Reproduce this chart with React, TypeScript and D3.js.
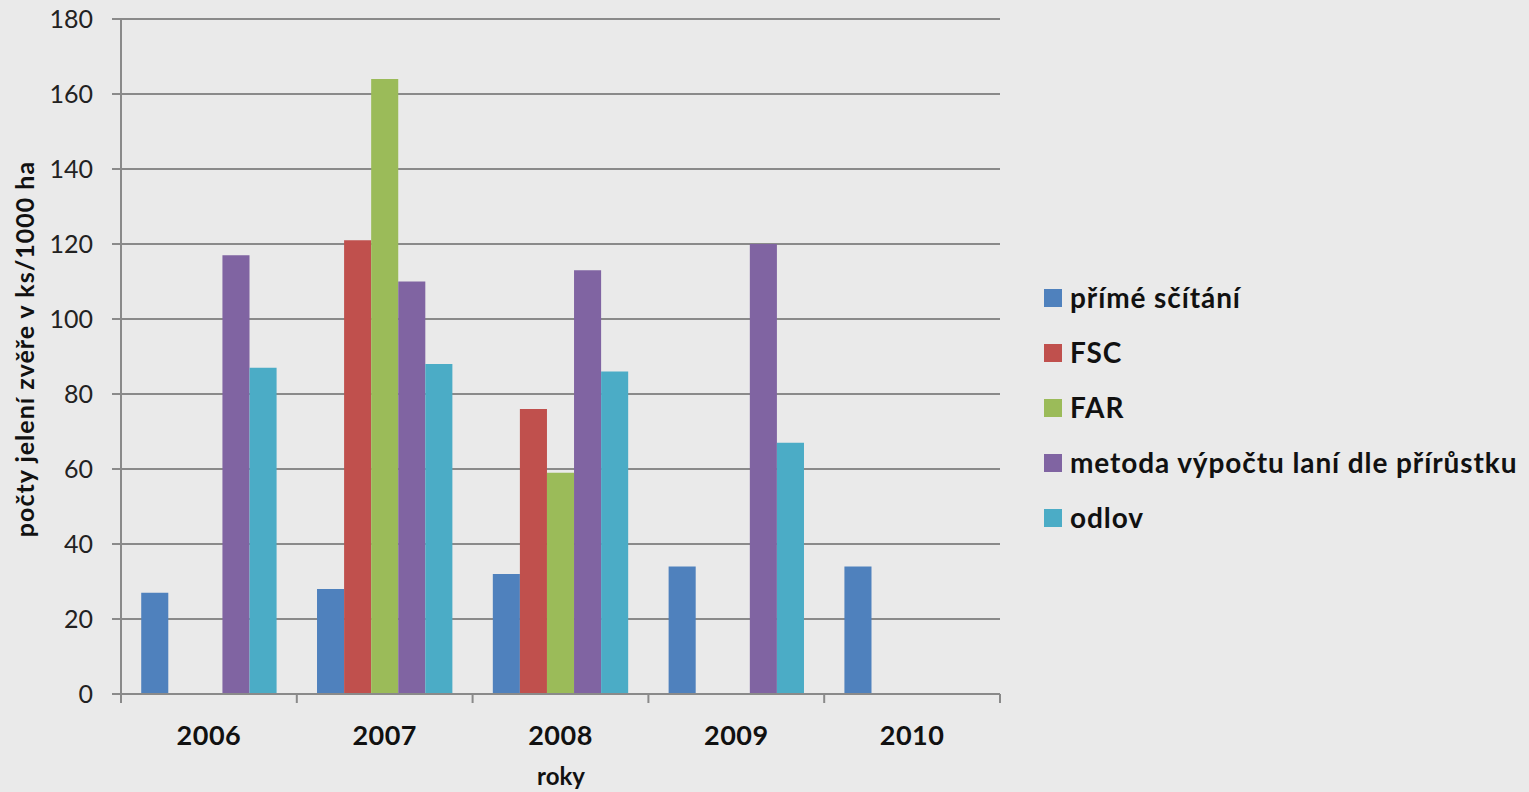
import React from "react";
import * as d3 from "d3";

const years = ["2006", "2007", "2008", "2009", "2010"];
const seriesNames = [
  "přímé sčítání",
  "FSC",
  "FAR",
  "metoda výpočtu laní dle přírůstku",
  "odlov",
];
const seriesColors = ["#4F81BD", "#C0504D", "#9BBB59", "#8064A2", "#4BACC6"];
// values per series, one entry per year (null = no bar)
const primeScitani = [27, 28, 32, 34, 34];
const fsc = [null, 121, 76, null, null];
const far = [null, 164, 59, null, null];
const metodaLani = [117, 110, 113, 120, null];
const odlov = [87, 88, 86, 67, null];
const seriesValues = [primeScitani, fsc, far, metodaLani, odlov];
const yTicks = [0, 20, 40, 60, 80, 100, 120, 140, 160, 180];

const W = 1529;
const H = 792;
const plot = { left: 121, right: 1000, top: 19, bottom: 694 };
const FONT = "Lato, 'Open Sans', sans-serif";

export default function App() {
  const x = d3
    .scaleBand<string>()
    .domain(years)
    .range([plot.left, plot.right])
    .paddingInner(0)
    .paddingOuter(0);
  const y = d3.scaleLinear().domain([0, 180]).range([plot.bottom, plot.top]);
  const groupPad = 0.115;
  const inner = d3
    .scaleBand<number>()
    .domain(d3.range(seriesNames.length))
    .range([x.bandwidth() * groupPad, x.bandwidth() * (1 - groupPad)]);

  const gridColor = "#8a8a8a";

  return (
    <svg
      width={W}
      height={H}
      style={{ position: "absolute", left: 0, top: 0, background: "#EAEAEA" }}
    >
      <rect x={0} y={0} width={W} height={H} fill="#EAEAEA" />
      {/* horizontal gridlines + y ticks */}
      {yTicks.map((t) => (
        <g key={t}>
          <line
            x1={plot.left - 9}
            x2={plot.right}
            y1={y(t)}
            y2={y(t)}
            stroke={gridColor}
            strokeWidth={2}
          />
          <text
            x={plot.left - 28}
            y={y(t)}
            dy="0.36em"
            textAnchor="end"
            fontFamily={FONT}
            fontSize={25}
            fill="#222"
          >
            {t}
          </text>
        </g>
      ))}
      {/* y axis line */}
      <line
        x1={plot.left}
        x2={plot.left}
        y1={plot.top}
        y2={plot.bottom}
        stroke={gridColor}
        strokeWidth={2}
      />
      {/* category boundary ticks */}
      {[...years.map((yr) => x(yr)!), plot.right].map((px, i) => (
        <line
          key={i}
          x1={px}
          x2={px}
          y1={plot.bottom}
          y2={plot.bottom + 9}
          stroke={gridColor}
          strokeWidth={2}
        />
      ))}
      {/* bars */}
      {seriesValues.map((vals, si) =>
        vals.map((v, yi) =>
          v == null ? null : (
            <rect
              key={`${si}-${yi}`}
              x={x(years[yi])! + inner(si)!}
              y={y(v)}
              width={inner.bandwidth()}
              height={y(0) - y(v)}
              fill={seriesColors[si]}
            />
          )
        )
      )}
      {/* x axis line on top */}
      <line
        x1={plot.left}
        x2={plot.right}
        y1={plot.bottom}
        y2={plot.bottom}
        stroke={gridColor}
        strokeWidth={2}
      />
      {/* x labels */}
      {years.map((yr) => (
        <text
          key={yr}
          x={x(yr)! + x.bandwidth() / 2}
          y={745}
          textAnchor="middle"
          fontFamily={FONT}
          fontWeight="bold"
          fontSize={27}
          letterSpacing={0.5}
          fill="#111"
        >
          {yr}
        </text>
      ))}
      {/* axis titles */}
      <text
        x={561}
        y={785}
        textAnchor="middle"
        fontFamily={FONT}
        fontWeight="bold"
        fontSize={24}
        fill="#111"
      >
        roky
      </text>
      <text
        transform={`translate(34, 349) rotate(-90)`}
        textAnchor="middle"
        fontFamily={FONT}
        fontWeight="bold"
        fontSize={25}
        letterSpacing={1}
        fill="#111"
      >
        počty jelení zvěře v ks/1000 ha
      </text>
      {/* legend */}
      {seriesNames.map((name, i) => {
        const cy = 298 + i * 55;
        return (
          <g key={name}>
            <rect
              x={1044}
              y={cy - 9}
              width={18}
              height={18}
              fill={seriesColors[i]}
            />
            <text
              x={1070}
              y={cy}
              dy="0.36em"
              fontFamily={FONT}
              fontWeight="bold"
              fontSize={28}
              letterSpacing={0.9}
              fill="#111"
            >
              {name}
            </text>
          </g>
        );
      })}
    </svg>
  );
}
